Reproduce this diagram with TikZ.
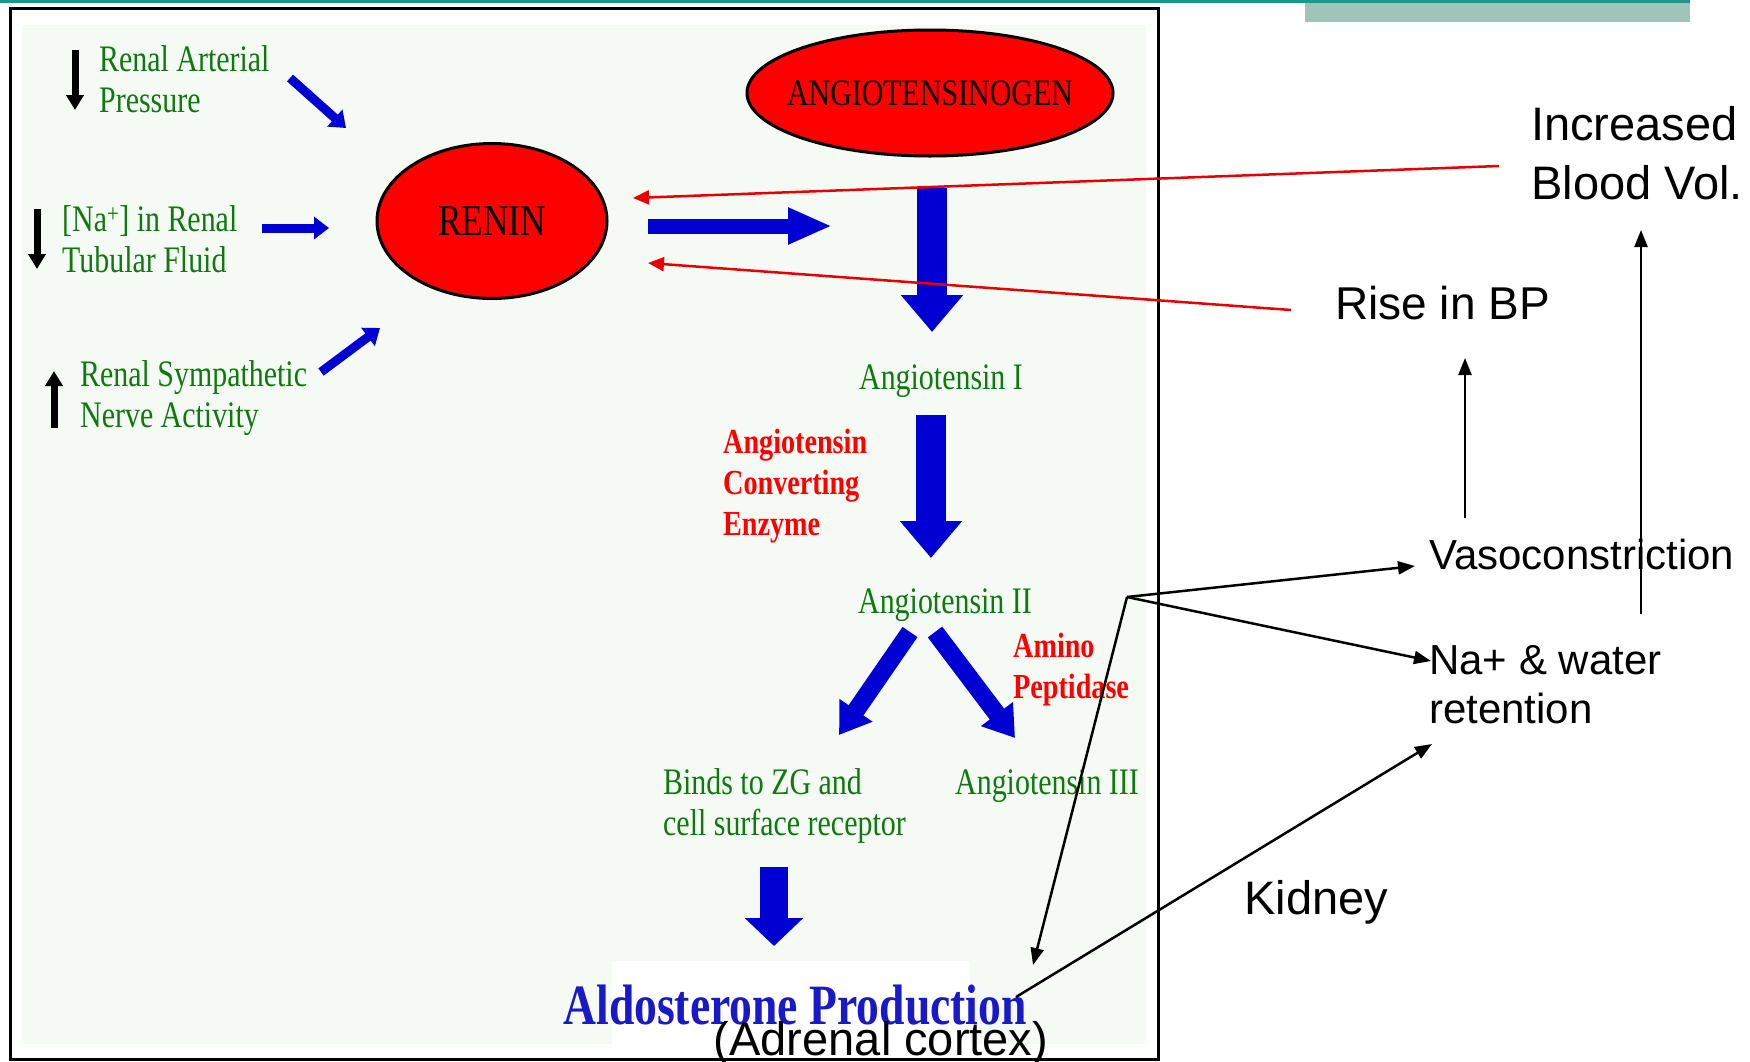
\documentclass[tikz,border=0pt]{standalone}
\usepackage{fontspec}
\setmainfont[FakeStretch=0.8]{Liberation Serif}
\newfontfamily\arialf{Liberation Sans}
\usetikzlibrary{arrows.meta,shapes.geometric}
\definecolor{teala}{RGB}{30,150,140}
\definecolor{boxgreen}{RGB}{160,196,184}
\definecolor{mint}{RGB}{245,250,245}
\definecolor{dgreen}{RGB}{15,120,15}
\definecolor{ablue}{RGB}{0,0,210}
\definecolor{aldoblue}{RGB}{25,25,200}
\definecolor{rarrow}{RGB}{230,0,0}
\begin{document}
\begin{tikzpicture}[x=1pt,y=-1pt,
  gtxt/.style={inner sep=0pt, anchor=west, align=left, text=dgreen, font=\fontsize{37.4}{41}\selectfont},
  rtxt/.style={inner sep=0pt, anchor=west, align=left, text=red, font=\bfseries\fontsize{35.2}{41}\selectfont},
  stxt/.style={inner sep=0pt, anchor=west, align=left, text=black, font=\arialf\fontsize{46}{58}\selectfont},
  enz/.style={ellipse, draw=black, line width=3pt, fill=red, inner sep=0pt},
  bigarrow/.style={draw=ablue, line width=30pt, -{Triangle[width=60pt,length=37pt]}},
  midarrow/.style={draw=ablue, line width=18pt, -{Triangle[width=38pt,length=30pt]}},
  smallarrow/.style={draw=ablue, line width=9pt, -{Triangle[width=22pt,length=15pt]}},
  karrow/.style={draw=black, line width=7pt, -{Triangle[width=17pt,length=15pt]}},
  blkarrow/.style={draw=black, line width=2.5pt, -{Triangle[width=13pt,length=17pt]}},
  redarrow/.style={draw=rarrow, line width=2.5pt, -{Triangle[width=14pt,length=16pt]}},
]
\useasboundingbox (0,0) rectangle (1750,1061);
% background elements
\fill[white] (0,0) rectangle (1750,1061);
\fill[teala] (0,0) rectangle (1690,3);
\fill[boxgreen] (1305,3) rectangle (1690,22);
\fill[mint] (22,25) rectangle (1146,1044);
\fill[white] (612,961) rectangle (970,1044);
\draw[line width=3pt] (10,8) rectangle (1158,1059);

% enzymes
\node[enz, minimum width=230pt, minimum height=155pt] (renin) at (492,221) {};
\node[inner sep=0pt, font=\fontsize{44}{44}\selectfont] (renintext) at (renin) {RENIN};
\node[enz, minimum width=366pt, minimum height=126pt] (angiogen) at (930,93) {};
\node[inner sep=0pt, font=\fontsize{37.4}{37.4}\selectfont] (angiotext) at (angiogen) {ANGIOTENSINOGEN};

% left stimuli
\node[gtxt] (rap) at (99,79) {Renal Arterial\\Pressure};
\node[gtxt] (na) at (62,239) {[Na\textsuperscript{+}] in Renal\\Tubular Fluid};
\node[gtxt] (rsn) at (80,398) {Renal Sympathetic\\Nerve Activity};

\coordinate (k1a) at (75,50);  \coordinate (k1b) at (75,110);
\coordinate (k2a) at (37,209); \coordinate (k2b) at (37,269);
\coordinate (k3a) at (54,428); \coordinate (k3b) at (54,371);
\draw[karrow] (k1a) -- (k1b);
\draw[karrow] (k2a) -- (k2b);
\draw[karrow] (k3a) -- (k3b);

\coordinate (s1a) at (290,78);  \coordinate (s1b) at (346,128);
\coordinate (s2a) at (262,228); \coordinate (s2b) at (329,228);
\coordinate (s3a) at (321,372); \coordinate (s3b) at (380,328);
\draw[smallarrow] (s1a) -- (s1b);
\draw[smallarrow] (s2a) -- (s2b);
\draw[smallarrow] (s3a) -- (s3b);

% main cascade
\coordinate (h1a) at (648,226); \coordinate (h1b) at (832,226);
\draw[draw=ablue, line width=15pt, -{Triangle[width=34pt,length=44pt]}] (h1a) -- (h1b);

\node[gtxt, anchor=center] (a1) at (941,381) {Angiotensin I};
\node[rtxt] (ace) at (723,486) {Angiotensin\\Converting\\Enzyme};
\node[gtxt, anchor=center] (a2) at (945,605) {Angiotensin II};
\node[rtxt] (amino) at (1013,670) {Amino\\Peptidase};
\node[gtxt] (binds) at (663,806) {Binds to ZG and\\cell surface receptor};
\node[gtxt] (a3) at (955,786) {Angiotensin III};
\node[inner sep=0pt, text=aldoblue, font=\bfseries\fontsize{57}{57}\selectfont] (aldo) at (795,1005) {Aldosterone Production};

\coordinate (d1a) at (932,188); \coordinate (d1b) at (932,332);
\coordinate (d2a) at (931,415); \coordinate (d2b) at (931,558);
\coordinate (g1a) at (910,632); \coordinate (g1b) at (839,735);
\coordinate (g2a) at (935,632); \coordinate (g2b) at (1015,738);
\coordinate (d3a) at (774,867); \coordinate (d3b) at (774,946);
\draw[bigarrow] (d1a) -- (d1b);
\draw[bigarrow] (d2a) -- (d2b);
\draw[midarrow] (g1a) -- (g1b);
\draw[midarrow] (g2a) -- (g2b);
\draw[draw=ablue, line width=28pt, -{Triangle[width=57pt,length=28pt]}] (d3a) -- (d3b);

% right side
\node[stxt, font=\arialf\fontsize{47}{59}\selectfont] (ibv) at (1531,153) {Increased\\Blood Vol.};
\node[stxt] (rbp) at (1335,303) {Rise in BP};
\node[stxt, font=\arialf\fontsize{42}{49}\selectfont] (vaso) at (1429,554) {Vasoconstriction};
\node[stxt, font=\arialf\fontsize{42}{49}\selectfont] (naw) at (1429,685) {Na+ \& water\\retention};
\node[stxt, font=\arialf\fontsize{47}{58}\selectfont] (kid) at (1244,902) {Kidney};
\node[stxt, anchor=center, font=\arialf\fontsize{47}{58}\selectfont] (adr) at (881,1043) {(Adrenal cortex)};

\coordinate (v1a) at (1465,518); \coordinate (v1b) at (1465,358);
\coordinate (v2a) at (1641,614); \coordinate (v2b) at (1641,230);
\coordinate (P) at (1127,597);
\coordinate (pv) at (1415,566);
\coordinate (pn) at (1431,661);
\coordinate (pa) at (1033,965);
\coordinate (ka) at (1016,997); \coordinate (kb) at (1432,744);
\draw[blkarrow] (v1a) -- (v1b);
\draw[blkarrow] (v2a) -- (v2b);
\draw[blkarrow] (P) -- (pv);
\draw[blkarrow] (P) -- (pn);
\draw[blkarrow] (P) -- (pa);
\draw[blkarrow] (ka) -- (kb);

\coordinate (r1a) at (1499,166); \coordinate (r1b) at (633,198);
\coordinate (r2a) at (1291,310); \coordinate (r2b) at (648,263);
\draw[redarrow] (r1a) -- (r1b);
\draw[redarrow] (r2a) -- (r2b);
\end{tikzpicture}
\end{document}
